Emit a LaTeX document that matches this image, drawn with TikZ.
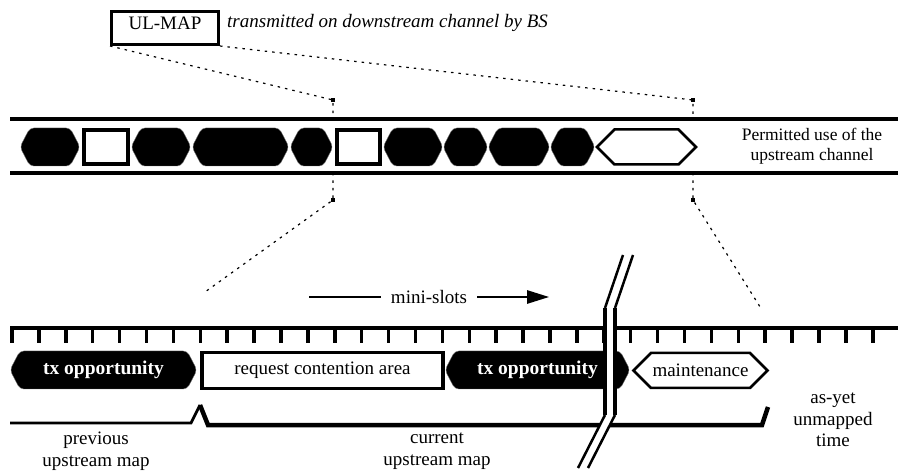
\documentclass[tikz,border=0pt]{standalone}
\usepackage{fontspec}
\setmainfont{Liberation Serif}
\usetikzlibrary{shapes.symbols,arrows.meta,positioning}

\begin{document}
\begin{tikzpicture}[x=1pt, y=-1pt,
                    lbl/.style = {
                      font=\fontsize{19}{21.5}\selectfont,
                      align=center, inner sep=0pt
                    },
                    busy/.style = {
                      signal, signal to=west and east,
                      signal pointer angle=125,
                      fill=black, draw=black!60, thin,
                      rounded corners=4pt,
                      inner sep=0pt, minimum height=38pt
                    },
                    free/.style = {
                      rectangle, draw, line width=3.5pt, fill=white,
                      inner sep=0pt, minimum height=34pt
                    },
                    maint/.style = {
                      signal, signal to=west and east,
                      draw, line width=2.5pt, fill=white,
                      inner sep=0pt, minimum height=35pt
                    },
                    leader/.style = {
                      line width=1.2pt, dash pattern=on 2.5pt off 5pt
                    },
                    ticker/.style = {line width=3.5pt}]
    \useasboundingbox (0,0) rectangle (898,473);

    % map message sent by the BS
    \node(ulmap)[draw, line width=3pt, minimum width=107pt, minimum height=33pt,
                 lbl, text depth=9pt] at (165,28) {UL-MAP};
    \node(bs)[lbl, anchor=west, font=\fontsize{19}{21.5}\selectfont\itshape]
        at (227,23) {transmitted on downstream channel by BS};

    % upstream channel
    \coordinate (chtop) at (10,119);
    \coordinate (chbot) at (10,173);
    \draw[line width=3.5pt] (chtop) -- (898,119);
    \draw[line width=3.5pt] (chbot) -- (898,173);
    \foreach \a/\b/\s [count=\i] in {20/80/busy, 84/128/free, 131/191/busy,
                                    192/289/busy, 290/333/busy, 337/380/free,
                                    383/443/busy, 443/488/busy, 488/550/busy,
                                    550/595/busy, 597/696/maint}
      \node[\s, minimum width={\b-\a}] (use\i) at ({(\a+\b)/2},147) {};
    \node(permitted)[lbl, font=\fontsize{17.5}{20}\selectfont] at (812,146)
        {Permitted use of the\\upstream channel};

    \coordinate (mapL) at (333,100);
    \coordinate (mapR) at (693,100);
    \coordinate (slotL) at (333,200);
    \coordinate (slotR) at (693,200);
    \coordinate (startL) at (205,292);
    \coordinate (startR) at (762,310);
    \draw[leader] (ulmap.south west) -- (mapL) -- (mapL |- chtop);
    \draw[leader] (ulmap.south east) -- (mapR) -- (mapR |- chtop);
    \draw[leader] (mapL |- chbot) -- (slotL) -- (startL);
    \draw[leader] (mapR |- chbot) -- (slotR) -- (startR);
    \foreach \c in {mapL, mapR, slotL, slotR}
      \fill (\c) ++(-1.8,-1.8) rectangle ++(3.6,3.6);

    % mini-slot ruler
    \draw[line width=4pt] (10,328) -- (898,328);
    \foreach \k in {0,...,32}
      \draw[ticker] ({12+26.9*\k},328) -- ++(0,15);
    \node(minislots)[lbl] at (429,297) {mini-slots};
    \draw[line width=2.5pt] ([xshift=-10pt]minislots.west) -- ++(-72,0);
    \draw[line width=2.5pt, -{Triangle[length=22pt, width=13pt]}]
      ([xshift=10pt]minislots.east) -- ++(72,0);

    % current map contents
    \node(tx1)[busy, lbl, text=white, font=\fontsize{19.5}{21.5}\selectfont\bfseries,
               minimum width=187pt] at (103.5,370) {tx opportunity};
    \node(contention)[free, lbl, minimum width=241pt, minimum height=36pt]
        at (322.5,370.5) {request contention area};
    \node(tx2)[busy, lbl, text=white, font=\fontsize{19.5}{21.5}\selectfont\bfseries,
               minimum width=185pt] at (537.5,370) {tx opportunity};
    \node(maintenance)[maint, lbl, minimum width=134pt] at (700.5,370.5) {maintenance};
    \node(unmapped)[lbl] at (833,420) {as-yet\\unmapped\\time};

    % previous and current map
    \draw[line width=2.7pt] (10,423) -- (191,423) -- (200,405);
    \draw[line width=4.5pt] (200,405) -- (208,425) -- (762,425) -- (768,407);
    \node(previous)[lbl] at (96,451) {previous\\upstream map};
    \node(current)[lbl] at (437,451) {current\\upstream map};

    % break in the time axis
    \fill[white] (623,255) -- (605,308) -- (605,415) -- (578,468)
      -- (588,468) -- (615,415) -- (615,308) -- (633,255) -- cycle;
    \draw[line width=2.5pt] (623,255) -- (605,308);
    \draw[line width=2.5pt] (633,255) -- (615,308);
    \draw[line width=3.5pt] (605,308) -- (605,415);
    \draw[line width=3.5pt] (615,308) -- (615,415);
    \draw[line width=2.5pt] (605,415) -- (578,468);
    \draw[line width=2.5pt] (615,415) -- (588,468);
  \end{tikzpicture}
\end{document}
